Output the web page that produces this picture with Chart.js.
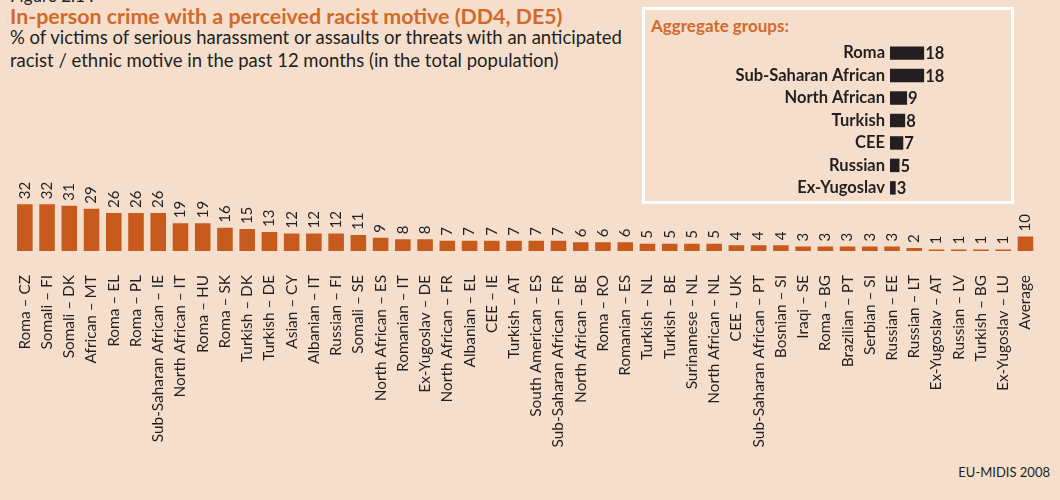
<!DOCTYPE html>
<html><head><meta charset="utf-8">
<script src="https://cdn.jsdelivr.net/npm/chart.js@4.4.1/dist/chart.umd.min.js"></script>
<style>
html,body{margin:0;padding:0;background:#f5dfcc;width:1060px;height:500px;overflow:hidden;font-family:Lato,"Open Sans",sans-serif;color:#231f20}
.t{position:absolute;white-space:nowrap}
#fig{left:10px;top:-15px;font-size:17px}
#title{left:10px;top:3px;font-size:21.4px;line-height:26px;font-weight:700;color:#d2692a}
#sub{left:10px;top:26px;font-size:18.5px;line-height:23px}
#src{right:10px;top:464px;font-size:13px}
#box{position:absolute;left:642px;top:7px;width:366px;height:191px;border:3px solid #fff}
#boxTitle{left:651px;top:15px;font-size:17px;font-weight:700;color:#d2692a}
#mainWrap{position:absolute;left:0;top:0;width:1060px;height:500px}
#insetWrap{position:absolute;left:700px;top:27px;width:300px;height:187px}
</style></head>
<body>
<div class="t" id="fig">Figure 2.1 :</div>
<div class="t" id="title">In-person crime with a perceived racist motive (DD4, DE5)</div>
<div class="t" id="sub">% of victims of serious harassment or assaults or threats with an anticipated<br>racist / ethnic motive in the past 12 months (in the total population)</div>
<div id="box"></div>
<div class="t" id="boxTitle">Aggregate groups:</div>
<div class="t" id="src">EU-MIDIS 2008</div>
<div id="mainWrap"><canvas id="main"></canvas></div>
<div id="insetWrap"><canvas id="inset"></canvas></div>
<script>
const categories = ["Roma – CZ","Somali – FI","Somali – DK","African – MT","Roma – EL","Roma – PL","Sub-Saharan African – IE","North African – IT","Roma – HU","Roma – SK","Turkish – DK","Turkish – DE","Asian – CY","Albanian – IT","Russian – FI","Somali – SE","North African – ES","Romanian – IT","Ex-Yugoslav – DE","North African – FR","Albanian – EL","CEE – IE","Turkish – AT","South American – ES","Sub-Saharan African – FR","North African – BE","Roma – RO","Romanian – ES","Turkish – NL","Turkish – BE","Surinamese – NL","North African – NL","CEE – UK","Sub-Saharan African – PT","Bosnian – SI","Iraqi – SE","Roma – BG","Brazilian – PT","Serbian – SI","Russian – EE","Russian – LT","Ex-Yugoslav – AT","Russian – LV","Turkish – BG","Ex-Yugoslav – LU","Average"];
const values = [32,32,31,29,26,26,26,19,19,16,15,13,12,12,12,11,9,8,8,7,7,7,7,7,7,6,6,6,5,5,5,5,4,4,4,3,3,3,3,3,2,1,1,1,1,10];
const aggGroups = ["Roma","Sub-Saharan African","North African","Turkish","CEE","Russian","Ex-Yugoslav"];
const aggValues = [18,18,9,8,7,5,3];

const BAR = '#c75a1d', DARK = '#231f20', FONT = 'Lato, "Open Sans", sans-serif';

const valueLabelsV = {
  id: 'valueLabelsV',
  afterDatasetsDraw(chart) {
    const ctx = chart.ctx;
    const meta = chart.getDatasetMeta(0);
    ctx.save();
    ctx.fillStyle = DARK;
    ctx.font = '15px ' + FONT;
    ctx.textAlign = 'left';
    ctx.textBaseline = 'middle';
    meta.data.forEach((bar, i) => {
      ctx.save();
      ctx.translate(bar.x, bar.y - 5);
      ctx.rotate(-Math.PI / 2);
      ctx.fillText(String(values[i]), 0, 0);
      ctx.restore();
    });
    ctx.restore();
  }
};

new Chart(document.getElementById('main'), {
  type: 'bar',
  data: { labels: categories, datasets: [{ data: values, backgroundColor: BAR, borderWidth: 0, categoryPercentage: 1, barPercentage: 0.7 }] },
  options: {
    responsive: true, maintainAspectRatio: false, animation: false,
    layout: { padding: { left: 13.7, right: 4.7, top: 192.6, bottom: 0 } },
    plugins: { legend: { display: false }, tooltip: { enabled: false } },
    scales: {
      x: {
        grid: { display: false }, border: { display: false },
        ticks: { color: DARK, font: { family: FONT, size: 15.4 }, minRotation: 90, maxRotation: 90, autoSkip: false, padding: 16 },
        afterFit(scale) { scale.height = 249; }
      },
      y: { display: false, min: 0, max: 40 }
    }
  },
  plugins: [valueLabelsV]
});

const valueLabelsH = {
  id: 'valueLabelsH',
  afterDatasetsDraw(chart) {
    const ctx = chart.ctx;
    const meta = chart.getDatasetMeta(0);
    ctx.save();
    ctx.fillStyle = DARK;
    ctx.font = 'bold 16.5px ' + FONT;
    ctx.textAlign = 'left';
    ctx.textBaseline = 'middle';
    meta.data.forEach((bar, i) => ctx.fillText(String(aggValues[i]), bar.x + 1, bar.y + 1));
    ctx.restore();
  }
};

new Chart(document.getElementById('inset'), {
  type: 'bar',
  data: { labels: aggGroups, datasets: [{ data: aggValues, backgroundColor: DARK, borderWidth: 0, categoryPercentage: 1, barPercentage: 0.6 }] },
  options: {
    indexAxis: 'y', responsive: true, maintainAspectRatio: false, animation: false,
    layout: { padding: 0 },
    plugins: { legend: { display: false }, tooltip: { enabled: false } },
    scales: {
      y: {
        grid: { display: false, drawTicks: false }, border: { display: false },
        ticks: { color: DARK, font: { family: FONT, size: 16.5, weight: 'bold' }, padding: 5 },
        afterFit(scale) { scale.width = 190; }
      },
      x: { display: false, min: 0, max: 58 }
    }
  },
  plugins: [valueLabelsH]
});
</script>
</body></html>
